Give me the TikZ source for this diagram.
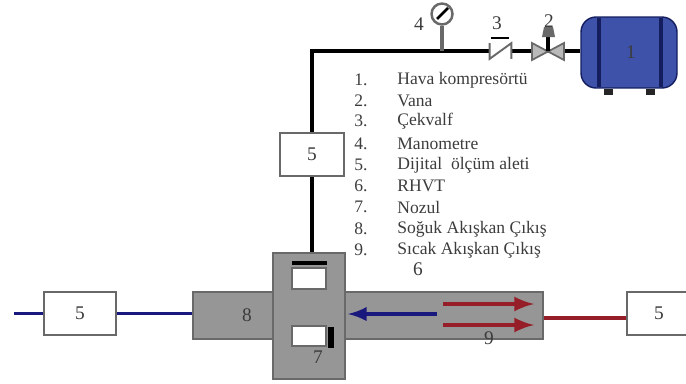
\documentclass[tikz,border=0pt]{standalone}
\usepackage{tikz}
\usepackage{xcolor}
\usepackage{fontspec}
\setmainfont{Liberation Serif}
\usetikzlibrary{positioning, shapes, arrows, calc}
\definecolor{bodygray}{RGB}{150,150,150}
\definecolor{edgegray}{RGB}{105,105,105}
\definecolor{tankblue}{RGB}{62,82,170}
\definecolor{bandblue}{RGB}{20,30,95}
\definecolor{coldblue}{RGB}{25,25,125}
\definecolor{hotred}{RGB}{150,30,40}
\definecolor{labelgray}{RGB}{60,60,60}
\tikzset{
    meter/.style={draw=edgegray, fill=white, line width=1.1pt, minimum width=1.44cm, minimum height=0.86cm, inner sep=0pt, text=labelgray, font=\fontsize{11}{11}\selectfont},
    body/.style={draw=edgegray, fill=bodygray, line width=1.1pt, inner sep=0pt},
    port/.style={draw=edgegray, fill=white, line width=1.1pt, inner sep=0pt, minimum width=0.68cm, minimum height=0.41cm},
    tag/.style={text=labelgray, inner sep=0pt, font=\fontsize{11}{11}\selectfont},
    num/.style={text=labelgray, inner sep=0pt, anchor=west, font=\fontsize{10}{10}\selectfont},
    entry/.style={text=labelgray, inner sep=0pt, anchor=west, font=\fontsize{10}{10}\selectfont},
    airline/.style={black, line width=2.1pt},
    coldline/.style={coldblue, line width=1.7pt},
    hotline/.style={hotred, line width=2pt}
}
\begin{document}
\begin{tikzpicture}[x=0.02cm, y=-0.02cm]
    \useasboundingbox (0,0) rectangle (686,383);
    % RHVT body
    \node[body, minimum width=1.6cm, minimum height=0.94cm] (coldpipe) at (233,315.5) {};
    \node[body, minimum width=3.96cm, minimum height=0.94cm] (hotpipe) at (444,315.5) {};
    \node[body, minimum width=1.44cm, minimum height=2.52cm] (chamber) at (309,316) {};
    \node[port] (upperport) at (309,278.5) {};
    \node[port] (lowerport) at (309,336) {};
    \node[fill=black, minimum width=0.7cm, minimum height=0.08cm, inner sep=0pt] (upperbar) at (309,263) {};
    \node[fill=black, minimum width=0.11cm, minimum height=0.42cm, inner sep=0pt] (lowerbar) at (331,337.5) {};
    % flows inside
    \coordinate (coldstart) at (437,314);
    \coordinate (coldend) at (348,314);
    \coordinate (hotstarta) at (443,304);
    \coordinate (hotenda) at (534,304);
    \coordinate (hotstartb) at (443,325);
    \coordinate (hotendb) at (534,325);
    \draw[-latex, coldblue, line width=2.6pt] (coldstart) -- (coldend);
    \draw[-latex, hotred, line width=2.8pt] (hotstarta) -- (hotenda);
    \draw[-latex, hotred, line width=2.8pt] (hotstartb) -- (hotendb);
    % meters
    \node[meter] (coldmeter) at (80,313.5) {5};
    \node[meter] (hotmeter) at (663,313.5) {};
    \node[tag] (hotmeterlabel) at (659,313.5) {5};
    \node[meter, minimum width=1.28cm] (airmeter) at (312,154.5) {5};
    \coordinate (coldout) at (14,313.5);
    \draw[coldline] (coldout) -- (coldmeter);
    \draw[coldline] (coldmeter) -- (coldpipe.west |- coldmeter);
    \draw[hotline] (hotpipe.east |- 0,318) -- (hotmeter.west |- 0,318);
    % tank
    \node[draw=bandblue, fill=tankblue, thick, rounded corners=0.3cm, minimum width=1.92cm, minimum height=1.42cm, inner sep=0pt] (tank) at (629,52.5) {};
    \draw[bandblue, line width=1.8pt] (599,18) -- (599,87);
    \draw[bandblue, line width=1.8pt] (661,18) -- (661,87);
    \fill[black!85] (604,89) rectangle (613,95);
    \fill[black!85] (646,89) rectangle (655,95);
    % air line
    \coordinate (corner) at (312,51);
    \node[minimum width=0.42cm, minimum height=0.3cm, inner sep=0pt] (checkvalve) at (500.5,51) {};
    \coordinate (valve) at (548,51);
    \coordinate (gaugefoot) at (442,51);
    \draw[airline] (chamber.north -| airmeter) -- (airmeter);
    \draw[airline] (airmeter) -- (corner) -- (checkvalve.west);
    \draw[airline] (checkvalve.east) -- (valve) -- (tank.west |- valve);
    % check valve detail
    \draw[edgegray, line width=1.1pt] (checkvalve.north west) -- (checkvalve.south west) -- (checkvalve.north east) -- (checkvalve.south east);
    \draw[black, line width=1.2pt] (491,38) -- (509,38);
    % valve
    \draw[draw=edgegray, fill=gray!55, line width=1pt] (532,43) -- (548,51.5) -- (532,60) -- cycle;
    \draw[draw=edgegray, fill=gray!55, line width=1pt] (564,43) -- (548,51.5) -- (564,60) -- cycle;
    \draw[black, line width=2pt] (valve) -- (548,36);
    \fill[edgegray] (542,37) -- (544,27) -- (553,27) -- (555,37) -- cycle;
    % gauge
    \node[circle, draw=edgegray, fill=white, line width=1.4pt, minimum size=0.42cm, inner sep=0pt] (gauge) at (442,14) {};
    \draw[edgegray, line width=2pt] (gauge) -- (gaugefoot);
    \fill[white] (gauge) circle (8);
    \draw[black, line width=1.6pt] ($(gauge)+(-5,5)$) -- ($(gauge)+(6,-6)$);
    % numbers
    \node[tag] (tagone) at (631,52) {1};
    \node[tag] (tagtwo) at (549,21) {2};
    \node[tag] (tagthree) at (497,23) {3};
    \node[tag] (tagfour) at (419,24) {4};
    \node[tag] (tagsix) at (418,269) {6};
    \node[tag] (tagseven) at (318,357) {7};
    \node[tag] (tageight) at (247,315) {8};
    \node[tag] (tagnine) at (489,338) {9};
    % legend
    \node[num] (numa) at (354,80) {1.};
    \node[num] (numb) at (354,100.5) {2.};
    \node[num] (numc) at (354,121) {3.};
    \node[num] (numd) at (354,144) {4.};
    \node[num] (nume) at (354,165) {5.};
    \node[num] (numf) at (354,186) {6.};
    \node[num] (numg) at (354,207) {7.};
    \node[num] (numh) at (354,229) {8.};
    \node[num] (numi) at (354,250) {9.};
    \node[entry] (itema) at (397,80) {Hava kompresörtü};
    \node[entry] (itemb) at (397,100.5) {Vana};
    \node[entry] (itemc) at (397,121) {Çekvalf};
    \node[entry] (itemd) at (397,144) {Manometre};
    \node[entry] (iteme) at (397,165) {Dijital\ \ ölçüm aleti};
    \node[entry] (itemf) at (397,186) {RHVT};
    \node[entry] (itemg) at (397,207) {Nozul};
    \node[entry] (itemh) at (397,229) {Soğuk Akışkan Çıkış};
    \node[entry] (itemi) at (397,250) {Sıcak Akışkan Çıkış};
\end{tikzpicture}
\end{document}
